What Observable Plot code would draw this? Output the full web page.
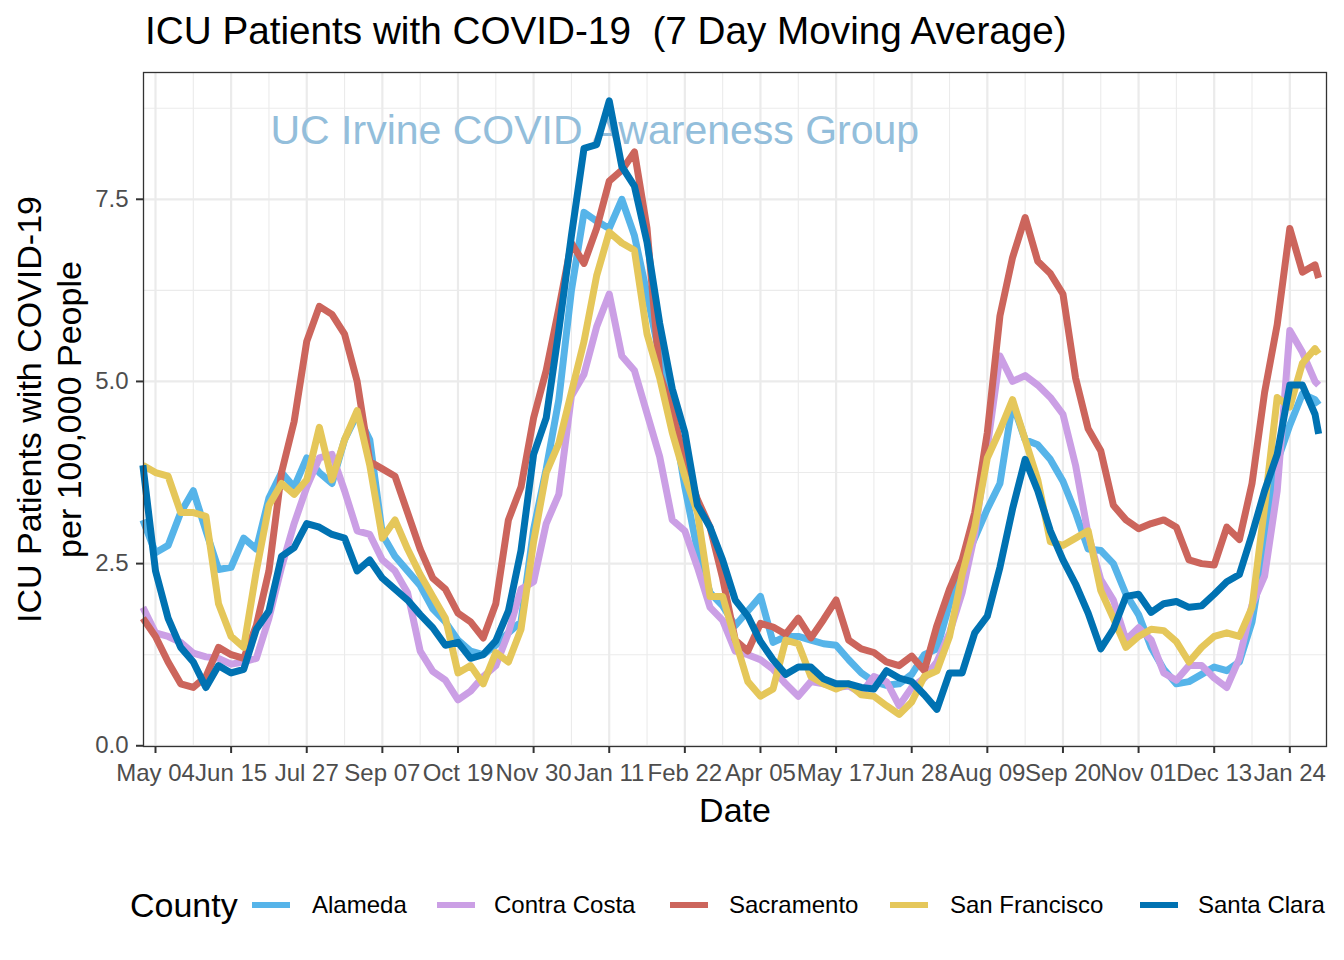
<!DOCTYPE html>
<html>
<head>
<meta charset="utf-8">
<script src="https://cdn.jsdelivr.net/npm/d3@7"></script>
<script src="https://cdn.jsdelivr.net/npm/@observablehq/plot@0.6"></script>
<style>
  body { margin: 0; background: #ffffff; font-family: "Liberation Sans", Arial, Helvetica, sans-serif; }
  #wrap { position: relative; width: 1344px; height: 960px; background: #ffffff; overflow: hidden; }
  #title { position: absolute; left: 145px; top: 12px; font-size: 38.7px; line-height: 38px; color: #000; white-space: pre; }
  #chart { position: absolute; left: 0; top: 60px; }
  #legend { position: absolute; left: 0; top: 850px; width: 1344px; height: 110px; }
  .lg-title { position: absolute; top: 38px; font-size: 34px; line-height: 34px; color: #000; white-space: pre; }
  .lg-key { position: absolute; top: 52px; width: 38px; height: 6px; }
  .lg-label { position: absolute; top: 43px; font-size: 24px; line-height: 24px; color: #000; white-space: pre; }
</style>
</head>
<body>
<div id="wrap">
  <div id="title">ICU Patients with COVID-19  (7 Day Moving Average)</div>
  <div id="chart"></div>
  <div id="legend"></div>
</div>
<script>
// ---- data (weekly readings from 2020-04-27, last value 2022-02-09) ----
const counties = ["Alameda", "Contra Costa", "Sacramento", "San Francisco", "Santa Clara"];
const countyColors = ["#56B4E9", "#CB9FE5", "#CC655C", "#E5C75A", "#0072B2"];

const alameda = [3.1,2.65,2.75,3.2,3.5,2.95,2.42,2.45,2.85,2.7, 3.4,3.75,3.55,3.95,3.75,3.6,4.2,4.55,4.2,2.9, 2.6,2.4,2.2,1.88,1.7,1.45,1.3,1.25,1.38,1.55, 1.7,2.97,3.8,4.75,6.25,7.32,7.2,7.1,7.5,7.0, 6.2,5.35,4.6,3.55,2.68,2.1,1.92,1.65,1.85,2.05, 1.42,1.5,1.5,1.45,1.4,1.38,1.18,1.0,0.88,0.83, 0.85,0.98,1.25,1.33,1.95,2.45,2.85,3.25,3.6,4.7, 4.2,4.13,3.93,3.63,3.2,2.7,2.68,2.5,2.08,1.8, 1.35,1.05,0.85,0.88,0.98,1.08,1.03,1.15,1.7,2.75, 3.9,4.4,4.83,4.75,4.68];
const contraCosta = [1.9,1.55,1.5,1.42,1.27,1.22,1.2,1.12,1.15,1.2, 1.75,2.45,3.05,3.55,3.95,4.0,3.5,2.95,2.9,2.55, 2.4,2.1,1.3,1.02,0.9,0.63,0.75,0.95,1.1,1.55, 2.15,2.25,3.05,3.45,4.8,5.1,5.75,6.2,5.35,5.15, 4.56,3.97,3.1,2.95,2.45,1.9,1.72,1.3,1.25,1.18, 1.05,0.85,0.68,0.88,0.85,0.8,0.82,0.72,0.95,0.88, 0.55,0.8,0.93,1.15,1.55,2.1,2.9,4.1,5.35,5.0, 5.08,4.95,4.78,4.55,3.85,2.9,2.28,2.0,1.45,1.62, 1.45,1.0,0.9,1.1,1.1,0.93,0.8,1.2,1.93,2.33, 3.5,5.7,5.4,5.0,4.95];
const sacramento = [1.75,1.5,1.15,0.85,0.8,0.95,1.35,1.25,1.2,1.65, 2.4,3.75,4.45,5.55,6.03,5.92,5.65,5.0,3.9,3.8, 3.7,3.2,2.7,2.3,2.15,1.82,1.7,1.48,1.95,3.1, 3.55,4.5,5.15,6.0,6.9,6.62,7.1,7.75,7.9,8.15, 7.1,5.1,4.6,3.9,3.38,3.0,2.3,1.45,1.3,1.68, 1.63,1.53,1.75,1.48,1.73,2.0,1.45,1.33,1.28,1.15, 1.1,1.23,1.03,1.65,2.15,2.55,3.2,4.3,5.9,6.7, 7.25,6.65,6.48,6.2,5.05,4.35,4.05,3.3,3.1,2.98, 3.05,3.1,3.0,2.55,2.5,2.48,3.0,2.83,3.6,4.85, 5.78,7.1,6.5,6.6,6.42];
const sanFrancisco = [3.85,3.75,3.7,3.2,3.2,3.15,1.95,1.5,1.35,2.4, 3.3,3.6,3.45,3.65,4.37,3.65,4.2,4.6,3.85,2.85, 3.1,2.7,2.35,2.05,1.75,1.0,1.1,0.85,1.28,1.15, 1.6,2.8,3.75,4.15,4.85,5.55,6.45,7.05,6.9,6.8, 5.65,5.05,4.3,3.7,3.2,2.05,2.05,1.45,0.88,0.68, 0.78,1.45,1.4,0.95,0.85,0.78,0.85,0.7,0.68,0.55, 0.43,0.6,0.95,1.03,1.5,2.35,3.0,3.95,4.33,4.75, 4.2,3.65,2.8,2.75,2.85,2.95,2.13,1.75,1.35,1.5, 1.6,1.58,1.43,1.15,1.35,1.5,1.55,1.5,1.9,3.28, 4.78,4.65,5.25,5.45,5.38];
const santaClara = [3.85,2.4,1.75,1.35,1.15,0.8,1.1,1.0,1.05,1.6, 1.85,2.6,2.72,3.05,3.0,2.9,2.85,2.4,2.55,2.3, 2.15,2.0,1.8,1.62,1.38,1.42,1.2,1.25,1.44,1.85, 2.68,4.0,4.5,5.7,7.0,8.2,8.25,8.85,7.95,7.68, 6.91,5.8,4.9,4.3,3.3,3.0,2.55,2.0,1.78,1.43, 1.18,0.98,1.08,1.08,0.92,0.85,0.85,0.8,0.78,1.03, 0.93,0.88,0.7,0.5,1.0,1.0,1.55,1.78,2.45,3.25, 3.93,3.5,2.95,2.55,2.22,1.82,1.33,1.6,2.05,2.08, 1.83,1.95,1.98,1.9,1.92,2.08,2.25,2.35,2.9,3.5, 4.0,4.95,4.95,4.55,4.28];

const majorXTicks = ["2020-05-04","2020-06-15","2020-07-27","2020-09-07","2020-10-19","2020-11-30","2021-01-11","2021-02-22","2021-04-05","2021-05-17","2021-06-28","2021-08-09","2021-09-20","2021-11-01","2021-12-13","2022-01-24"];
const minorXTicks = ["2020-05-25","2020-07-06","2020-08-17","2020-09-28","2020-11-09","2020-12-21","2021-02-01","2021-03-15","2021-04-26","2021-06-07","2021-07-19","2021-08-30","2021-10-11","2021-11-22","2022-01-03"];
const majorYTicks = [0, 2.5, 5, 7.5];
const minorYTicks = [1.25, 3.75, 6.25, 8.75];

const titleY = "ICU Patients with COVID-19\nper 100,000 People";
const titleX = "Date";
const watermark = "UC Irvine COVID Awareness Group";

// ---- build ----
const weeklyDates = d3.utcDay.range(new Date(Date.UTC(2020, 3, 27)), new Date(Date.UTC(2022, 1, 8)), 7);
const dates = [...weeklyDates, new Date(Date.UTC(2022, 1, 9))];
const seriesValues = [alameda, contraCosta, sacramento, sanFrancisco, santaClara];
const data = counties.flatMap((c, i) => seriesValues[i].map((v, j) => ({county: c, date: dates[j], value: v})));

const FONT = "'Liberation Sans', Arial, Helvetica, sans-serif";
const chart = Plot.plot({
  width: 1344,
  height: 790,
  marginLeft: 143,
  marginRight: 18,
  marginTop: 12,
  marginBottom: 104,
  x: {type: "utc", domain: [new Date("2020-04-27T08:00:00Z"), new Date("2022-02-13T09:00:00Z")]},
  y: {domain: [-0.01, 9.24]},
  color: {domain: counties, range: countyColors},
  style: {fontFamily: FONT, fontSize: "24px", background: "#ffffff", overflow: "visible"},
  marks: [
    Plot.gridX(minorXTicks.map(d => new Date(d)), {stroke: "#EBEBEB", strokeOpacity: 1, strokeWidth: 1.1}),
    Plot.gridY(minorYTicks, {stroke: "#EBEBEB", strokeOpacity: 1, strokeWidth: 1.1}),
    Plot.gridX(majorXTicks.map(d => new Date(d)), {stroke: "#EBEBEB", strokeOpacity: 1, strokeWidth: 2.2}),
    Plot.gridY(majorYTicks, {stroke: "#EBEBEB", strokeOpacity: 1, strokeWidth: 2.2}),
    Plot.text([watermark], {frameAnchor: "top-left", textAnchor: "start", lineAnchor: "middle", dx: 127, dy: 58, fontSize: 41, fill: "#93BEDB"}),
    Plot.line(data, {x: "date", y: "value", z: "county", stroke: "county", strokeWidth: 7, strokeLinejoin: "round", strokeLinecap: "butt"}),
    Plot.frame({stroke: "#333333", strokeWidth: 1.3}),
    Plot.axisX(majorXTicks.map(d => new Date(d)), {tickFormat: d3.utcFormat("%b %d"), tickSize: 7, tickPadding: 10, fontSize: 24, fill: "#4D4D4D", stroke: "#333333", strokeWidth: 2, label: null}),
    Plot.axisY(majorYTicks, {tickFormat: d3.format(".1f"), tickSize: 7, tickPadding: 8, fontSize: 24, fill: "#4D4D4D", stroke: "#333333", strokeWidth: 2, label: null}),
    Plot.text([titleY], {frameAnchor: "left", rotate: -90, textAnchor: "middle", lineAnchor: "middle", lineHeight: 1.15, dx: -95, fontSize: 34, fill: "#000000"}),
    Plot.text([titleX], {frameAnchor: "bottom", textAnchor: "middle", lineAnchor: "middle", dy: 65, fontSize: 34, fill: "#000000"})
  ]
});
document.getElementById("chart").appendChild(chart);

// ---- legend ----
const legend = document.getElementById("legend");
const lgTitle = document.createElement("div");
lgTitle.className = "lg-title";
lgTitle.style.left = "130px";
lgTitle.textContent = "County";
legend.appendChild(lgTitle);
const keyLefts = [252, 437, 670, 890, 1140];
const labelLefts = [312, 494, 729, 950, 1198];
counties.forEach((c, i) => {
  const k = document.createElement("div");
  k.className = "lg-key";
  k.style.left = keyLefts[i] + "px";
  k.style.background = countyColors[i];
  legend.appendChild(k);
  const t = document.createElement("div");
  t.className = "lg-label";
  t.style.left = labelLefts[i] + "px";
  t.textContent = c;
  legend.appendChild(t);
});
</script>
</body>
</html>
